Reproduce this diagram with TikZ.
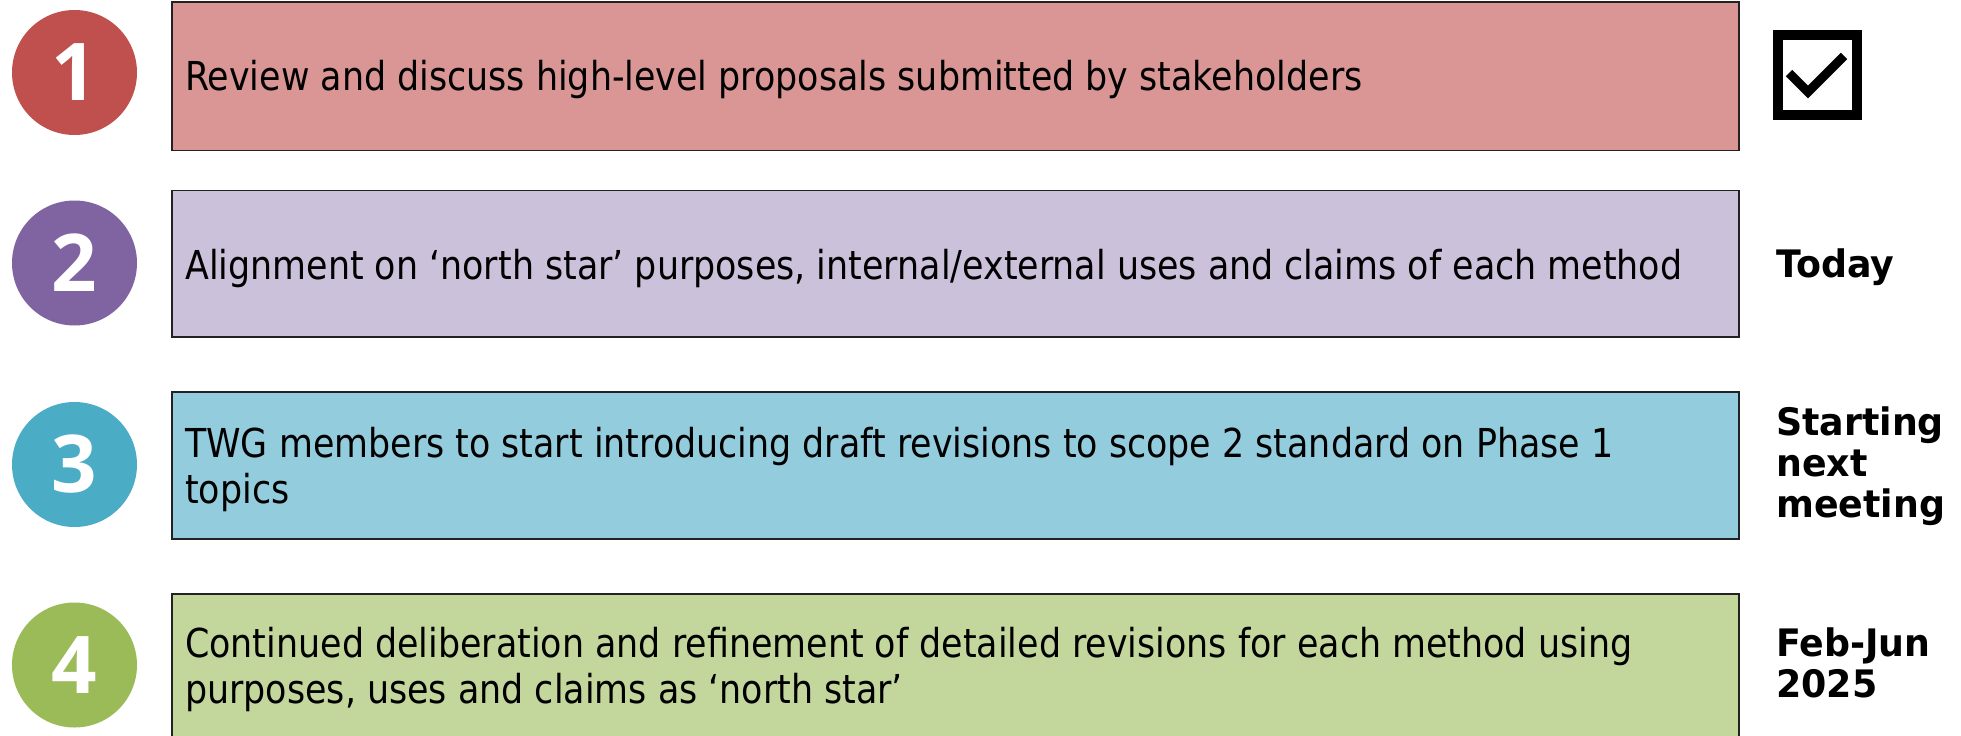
\documentclass[tikz,border=0pt]{standalone}
\usepackage{fontspec}
\newfontfamily\boxfont[FakeStretch=0.875]{DejaVu Sans}
\newfontfamily\datefont[FakeStretch=0.96]{DejaVu Sans}
\newfontfamily\numfont{Open Sans}
\definecolor{cred}{HTML}{C0504D}
\definecolor{cpurple}{HTML}{8064A2}
\definecolor{cblue}{HTML}{4BACC6}
\definecolor{cgreen}{HTML}{9BBB59}
\definecolor{fred}{HTML}{D99694}
\definecolor{fpurple}{HTML}{CCC1DA}
\definecolor{fblue}{HTML}{93CDDD}
\definecolor{fgreen}{HTML}{C3D69B}
\definecolor{edge}{HTML}{222222}
\tikzset{
  numcircle/.style={circle, fill=#1, minimum size=125bp, inner sep=0pt, text=white,
    font=\numfont\bfseries\fontsize{80}{80}\selectfont},
  stepbox/.style={rectangle, draw=edge, line width=1.6bp, fill=#1, anchor=north west,
    minimum width=1567bp, inner sep=0pt},
  steptext/.style={anchor=base west, inner sep=0pt, align=left,
    font=\boxfont\fontsize{40}{46}\selectfont},
  datetext/.style={anchor=base west, inner sep=0pt, align=left,
    font=\datefont\bfseries\fontsize{38}{41}\selectfont},
}
\begin{document}
\begin{tikzpicture}[x=1bp,y=-1bp]
\useasboundingbox (0,0) rectangle (1961,736);
\fill[white] (0,0) rectangle (1961,736);

% circles
\node[numcircle=cred]    (c1) at (74.5,72.5) {1};
\node[numcircle=cpurple] (c2) at (74.5,263) {2};
\node[numcircle=cblue]   (c3) at (74.5,464.5) {3};
\node[numcircle=cgreen]  (c4) at (74.5,665) {4};

% boxes
\node[stepbox=fred,    minimum height=148bp] (b1) at (171,1.5) {};
\node[stepbox=fpurple, minimum height=146.5bp] (b2) at (171,189.5) {};
\node[stepbox=fblue,   minimum height=147bp] (b3) at (171,391) {};
\node[stepbox=fgreen,  minimum height=150bp] (b4) at (171,593) {};

% box texts (base anchor = baseline of last line)
\node[steptext] (t1) at (185,91) {Review and discuss high-level proposals submitted by stakeholders};
\node[steptext] (t2) at (185,279) {Alignment on ‘north star’ purposes, internal/external uses and claims of each method};
\node[steptext] (t3) at (185,503) {TWG members to start introducing draft revisions to scope 2 standard on Phase 1\\topics};
\node[steptext] (t4) at (185,703) {Continued deliberation and refinement of detailed revisions for each method using\\purposes, uses and claims as ‘north star’};

% checkbox
\node[draw=black, line width=10bp, minimum size=79bp, inner sep=0pt] (chk) at (1817.5,75) {};
\draw[line width=9bp, line join=miter, line cap=butt] (1789,73) -- (1808,92) -- (1844,56);

% date texts
\node[datetext] (r2) at (1776,277) {Today};
\node[datetext] (r3) at (1776,517) {Starting\\next\\meeting};
\node[datetext] (r4) at (1776,697) {Feb-Jun\\2025};
\end{tikzpicture}
\end{document}
